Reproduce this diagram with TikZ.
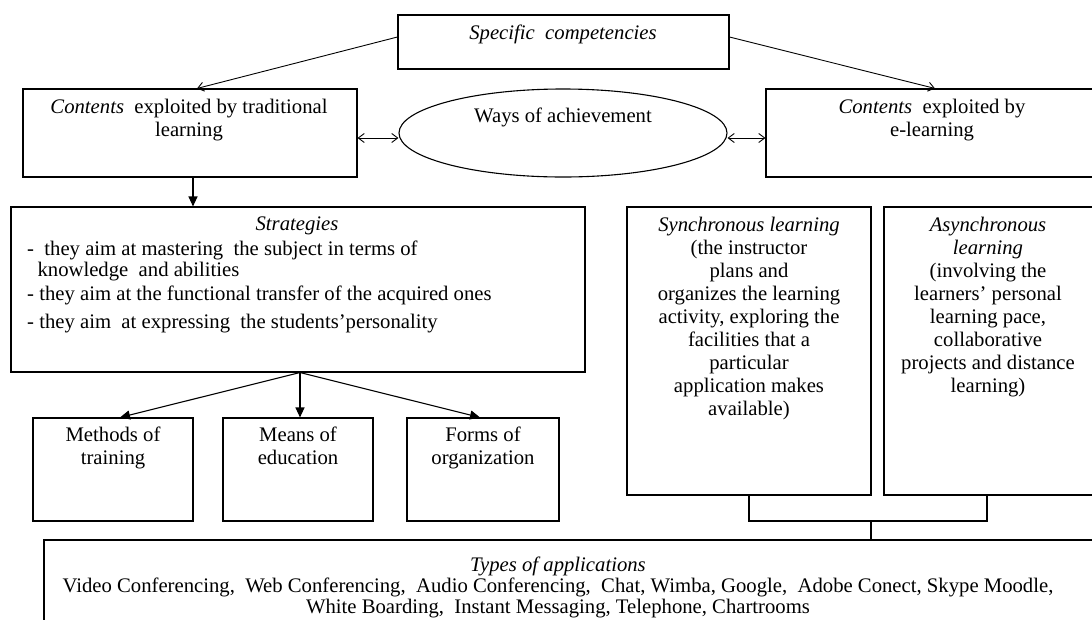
\documentclass[tikz,border=0pt]{standalone}
\usepackage{fontspec}
\setmainfont{Liberation Serif}
\usetikzlibrary{arrows.meta,shapes.geometric,calc}
\newcommand\fsz{\fontsize{20.7}{23}\selectfont}
\begin{document}
\begin{tikzpicture}[x=1pt,y=-1pt,
  box/.style={draw,line width=1.1pt,inner sep=0},
  txt/.style={inner sep=0,anchor=north,align=center,font=\fsz},
  thinarr/.style={line width=0.9pt,-{Straight Barb[length=6pt,width=9pt]}},
  dblarr/.style={line width=0.9pt,{Straight Barb[length=6pt,width=9pt]}-{Straight Barb[length=6pt,width=9pt]}},
  fillarr/.style={line width=1.1pt,-{Triangle[length=10pt,width=9pt]}},
  plain/.style={line width=1.1pt}]
\useasboundingbox (0,0) rectangle (1092,619);
% boxes
\node[box,minimum width=331pt,minimum height=54pt] (spec) at (563.5,42) {};
\node[txt] (spect) at (563,25) {\textit{Specific \ competencies}};
\node[box,minimum width=334pt,minimum height=88pt] (trad) at (190,133) {};
\node[txt] (tradt) at (189,99) {\textit{Contents} \ exploited by traditional\\learning};
\node[draw,ellipse,line width=1.1pt,inner sep=0,minimum width=328pt,minimum height=88pt] (ell) at (563,133) {};
\node[txt] (ellt) at (563,108) {Ways of achievement};
\node[box,minimum width=334pt,minimum height=88pt] (el) at (933,133) {};
\node[txt] (elt) at (932,99) {\textit{Contents} \ exploited by\\e-learning};
\node[box,minimum width=574pt,minimum height=165pt] (strat) at (298,289.5) {};
\node[txt] (stratt) at (297,217) {\textit{Strategies}};
\node[txt,anchor=north west,align=left] (stratl) at (27,241) {- \ they aim at mastering \ the subject in terms of\\[-2pt]
\ \ knowledge \ and abilities\\[1pt]
- they aim at the functional transfer of the acquired ones\\[5pt]
- they aim \ at expressing \ the students’personality};
\node[box,minimum width=160pt,minimum height=103pt] (meth) at (113,469.5) {};
\node[txt] (metht) at (113,427) {Methods of\\training};
\node[box,minimum width=150pt,minimum height=103pt] (mean) at (298,469.5) {};
\node[txt] (meant) at (298,427) {Means of\\education};
\node[box,minimum width=152pt,minimum height=103pt] (form) at (483,469.5) {};
\node[txt] (formt) at (483,427) {Forms of\\organization};
\node[box,minimum width=244pt,minimum height=288pt] (sync) at (749,351) {};
\node[txt] (synct) at (749,217) {\textit{Synchronous learning}\\(the instructor\\plans and\\organizes the learning\\activity, exploring the\\facilities that a\\particular\\application makes\\available)};
\node[box,minimum width=216pt,minimum height=288pt] (async) at (992,351) {};
\node[txt] (asynct) at (988,217) {\textit{Asynchronous}\\\textit{learning}\\(involving the\\learners' personal\\learning pace,\\collaborative\\projects and distance\\learning)};
\node[box,minimum width=1056pt,minimum height=100pt] (types) at (572,590) {};
\node[txt,font=\fontsize{20.7}{21}\selectfont] (typest) at (558,557) {\textit{Types of applications}\\
Video Conferencing, \ Web Conferencing, \ Audio Conferencing, \ Chat, Wimba, Google, \ Adobe Conect, Skype Moodle,\\
White Boarding, \ Instant Messaging, Telephone, Chartrooms};
% connectors
\draw[thinarr] ([yshift=5pt]spec.west) -- ([xshift=7pt]trad.north);
\draw[thinarr] ([yshift=5pt]spec.east) -- ([xshift=2pt]el.north);
\draw[dblarr] ([yshift=-5pt]trad.east) -- ([yshift=-5pt]ell.west);
\draw[dblarr] ([yshift=-5pt]ell.east) -- ([yshift=-5pt]el.west);
\draw[fillarr] ([xshift=3pt]trad.south) -- ([xshift=3pt]trad.south |- strat.north);
\draw[fillarr] ([xshift=2pt]strat.south) -- ([xshift=7pt]meth.north);
\draw[fillarr] ([xshift=2pt]strat.south) -- ([xshift=2pt]mean.north);
\draw[fillarr] ([xshift=2pt]strat.south) -- ([xshift=-3pt]form.north);
\coordinate (bar) at (871,521);
\draw[plain] (sync.south) |- (bar) -| ([xshift=-5pt]async.south);
\draw[plain] (bar) -- (bar |- types.north);
\end{tikzpicture}
\end{document}
